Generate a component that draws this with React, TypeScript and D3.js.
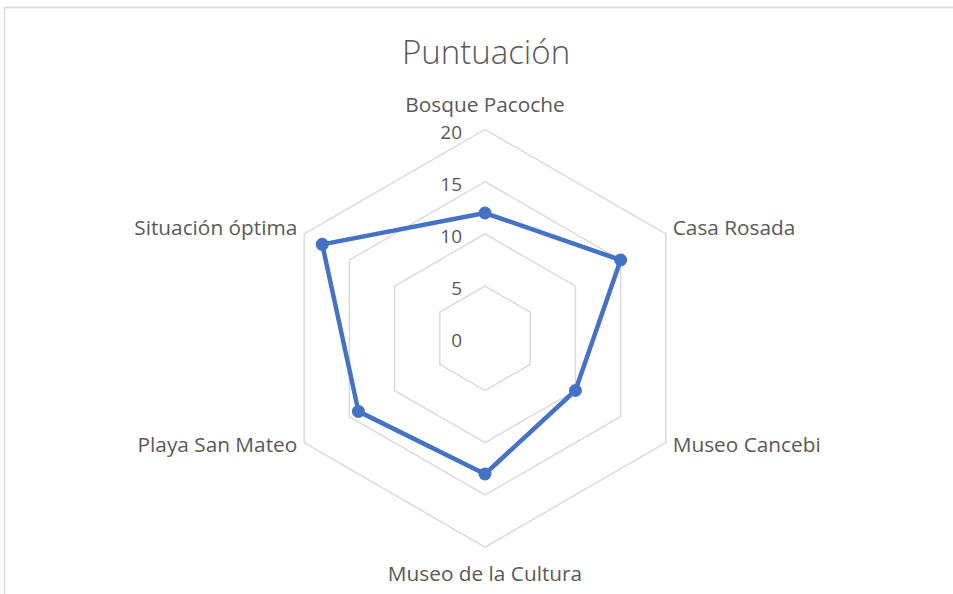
import React, { useEffect, useRef } from 'react'
import * as d3 from 'd3'

const categories = [
  'Bosque Pacoche',
  'Casa Rosada',
  'Museo Cancebi',
  'Museo de la Cultura',
  'Playa San Mateo',
  'Situación óptima'
]
const puntuacion = [12, 15, 10, 13, 14, 18]
const ticks = [0, 5, 10, 15, 20]

const width = 953
const height = 594
const cx = 485
const cy = 338.3
const radius = 208.8
const font = "'Open Sans', sans-serif"
const textColor = '#595959'
const gridColor = '#d9d9d9'
const seriesColor = '#4472C4'

const drawRadar = (node: SVGSVGElement) => {
  const svg = d3.select(node)
  svg.selectAll('*').remove()

  // chart area border (runs off right and bottom)
  svg
    .append('path')
    .attr('d', `M4.5,${height + 5} L4.5,7.5 L${width + 5},7.5`)
    .attr('fill', 'none')
    .attr('stroke', gridColor)
    .attr('stroke-width', 1.3)

  svg
    .append('text')
    .text('Puntuación')
    .attr('x', cx + 1)
    .attr('y', 51)
    .attr('text-anchor', 'middle')
    .attr('dominant-baseline', 'central')
    .attr('font-family', font)
    .attr('font-weight', 300)
    .attr('font-size', 33)
    .attr('fill', textColor)

  const r = d3.scaleLinear().domain([0, 20]).range([0, radius])
  const angle = d3
    .scalePoint<string>()
    .domain(categories)
    .range([0, (2 * Math.PI * (categories.length - 1)) / categories.length])

  const line = d3
    .lineRadial<[string, number]>()
    .angle((d) => angle(d[0]) as number)
    .radius((d) => r(d[1]))
    .curve(d3.curveLinearClosed)

  const g = svg.append('g').attr('transform', `translate(${cx}, ${cy})`)

  // hexagon grid, innermost ring is 5
  g.append('g')
    .selectAll('path')
    .data(ticks.filter((t) => t > 0))
    .enter()
    .append('path')
    .attr('d', (t) => line(categories.map((c) => [c, t] as [string, number])))
    .attr('fill', 'none')
    .attr('stroke', gridColor)
    .attr('stroke-width', 1.4)

  // tick labels
  g.append('g')
    .selectAll('text')
    .data(ticks)
    .enter()
    .append('text')
    .text((t) => t)
    .attr('x', -23)
    .attr('y', (t) => -r(t) + 2)
    .attr('text-anchor', 'end')
    .attr('dominant-baseline', 'central')
    .attr('font-family', font)
    .attr('font-size', 19)
    .attr('fill', textColor)

  // category labels
  g.append('g')
    .selectAll('text')
    .data(categories)
    .enter()
    .append('text')
    .text((c) => c)
    .each(function (c) {
      const a = angle(c) as number
      const sx = Math.sin(a)
      const sy = -Math.cos(a)
      const el = d3.select(this)
      const off = radius + (Math.abs(sx) < 0.01 ? 26 : 8)
      el.attr('x', off * sx)
        .attr('y', off * sy - (Math.abs(sx) < 0.01 ? 0 : 3))
        .attr('text-anchor', sx > 0.01 ? 'start' : sx < -0.01 ? 'end' : 'middle')
    })
    .attr('dominant-baseline', 'central')
    .attr('font-family', font)
    .attr('font-size', 20.8)
    .attr('fill', textColor)

  const series = categories.map((c, i) => [c, puntuacion[i]] as [string, number])

  g.append('path')
    .attr('d', line(series))
    .attr('fill', 'none')
    .attr('stroke', seriesColor)
    .attr('stroke-width', 4.5)
    .attr('stroke-linejoin', 'round')

  g.append('g')
    .selectAll('circle')
    .data(series)
    .enter()
    .append('circle')
    .attr('cx', (d) => r(d[1]) * Math.sin(angle(d[0]) as number))
    .attr('cy', (d) => -r(d[1]) * Math.cos(angle(d[0]) as number))
    .attr('r', 6.5)
    .attr('fill', seriesColor)
}

const App = () => {
  const ref = useRef<SVGSVGElement>(null)

  useEffect(() => {
    if (ref.current) drawRadar(ref.current)
  }, [])

  return (
    <div style={{ position: 'absolute', left: 0, top: 0 }}>
      <svg ref={ref} width={width} height={height} style={{ display: 'block', background: '#fff' }} />
    </div>
  )
}

export default App
